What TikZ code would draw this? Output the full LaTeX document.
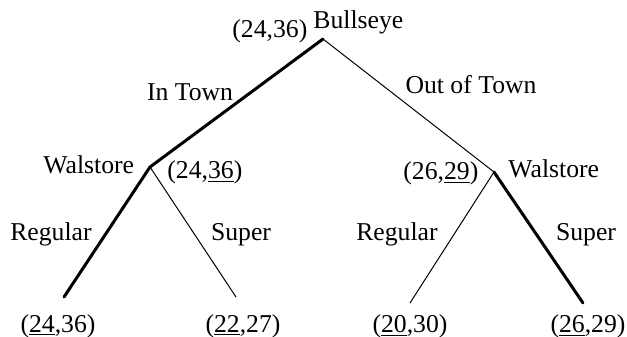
\documentclass[tikz,border=0pt]{standalone}
\usepackage{fontspec}
\setmainfont{Liberation Serif}
\begin{document}
\begin{tikzpicture}[x=0.5pt,y=-0.5pt,
  lbl/.style={inner sep=0pt,font=\fontsize{12.85pt}{15pt}\selectfont},
  thickedge/.style={line width=1.5pt,line cap=round},
  thinedge/.style={line width=0.5pt}]
\useasboundingbox (0,0) rectangle (627,337);
\coordinate (root) at (323,39);
\coordinate (lw) at (150,167);
\coordinate (rw) at (494,172);
\coordinate (ll) at (64,297);
\coordinate (lr) at (236,297);
\coordinate (rl) at (410,303);
\coordinate (rr) at (583,303);
\draw[thickedge] (root) -- (lw);
\draw[thinedge] (root) -- (rw);
\draw[thickedge] (lw) -- (ll);
\draw[thinedge] (lw) -- (lr);
\draw[thinedge] (rw) -- (rl);
\draw[thickedge] (rw) -- (rr);
\node[lbl,anchor=base west] (tbull) at (313,28) {Bullseye};
\node[lbl,anchor=base west] (troot) at (232,37) {(24,36)};
\node[lbl,anchor=base] (tin) at (190,100) {In Town};
\node[lbl,anchor=base] (tout) at (471,93) {Out of Town};
\node[lbl,anchor=base west] (tlw) at (43,173) {Walstore};
\node[lbl,anchor=base west] (tlwp) at (167,178) {(24,\underline{36})};
\node[lbl,anchor=base west] (trwp) at (403,179) {(26,\underline{29})};
\node[lbl,anchor=base west] (trw) at (508,177) {Walstore};
\node[lbl,anchor=base] (treg1) at (51,240) {Regular};
\node[lbl,anchor=base] (tsup1) at (241,240) {Super};
\node[lbl,anchor=base] (treg2) at (397,240) {Regular};
\node[lbl,anchor=base] (tsup2) at (586,240) {Super};
\node[lbl,anchor=base] (tll) at (58,332) {(\underline{24},36)};
\node[lbl,anchor=base] (tlr) at (243,332) {(\underline{22},27)};
\node[lbl,anchor=base] (trl) at (410,332) {(\underline{20},30)};
\node[lbl,anchor=base] (trr) at (588,332) {(\underline{26},29)};
\end{tikzpicture}
\end{document}
